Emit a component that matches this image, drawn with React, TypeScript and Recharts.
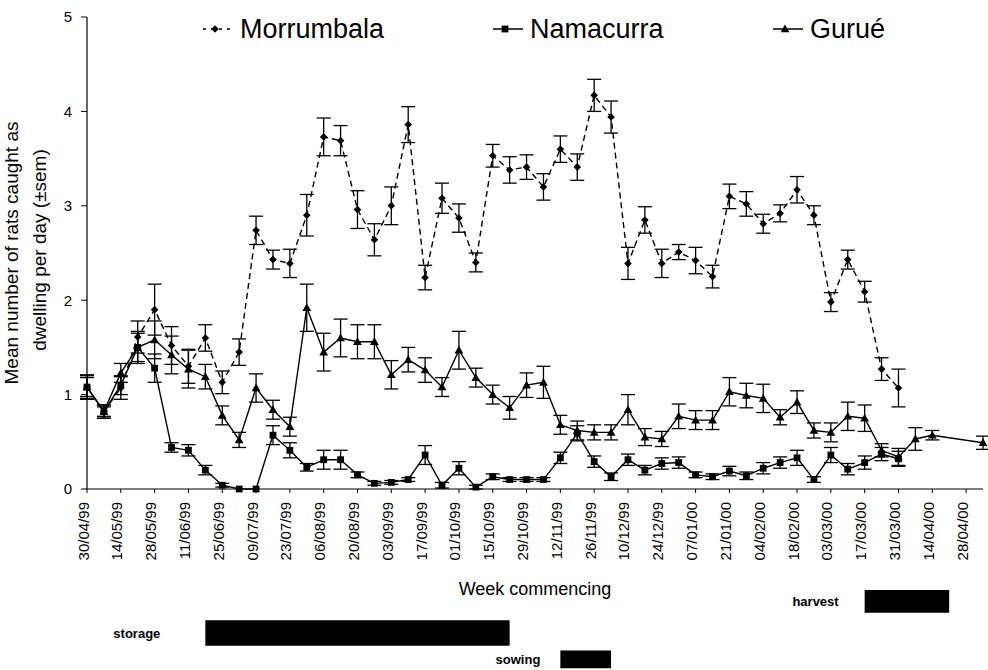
import React from 'react';
import { LineChart, Line, XAxis, YAxis, ErrorBar, Legend, ReferenceArea, Label } from 'recharts';

const FONT = '"Liberation Sans", Arial, Helvetica, sans-serif';

// week commencing, one entry per weekly trapping session
const WEEKS = [
  '30/04/99', '07/05/99', '14/05/99', '21/05/99', '28/05/99', '04/06/99', '11/06/99', '18/06/99',
  '25/06/99', '02/07/99', '09/07/99', '16/07/99', '23/07/99', '30/07/99', '06/08/99', '13/08/99',
  '20/08/99', '27/08/99', '03/09/99', '10/09/99', '17/09/99', '24/09/99', '01/10/99', '08/10/99',
  '15/10/99', '22/10/99', '29/10/99', '05/11/99', '12/11/99', '19/11/99', '26/11/99', '03/12/99',
  '10/12/99', '17/12/99', '24/12/99', '31/12/99', '07/01/00', '14/01/00', '21/01/00', '28/01/00',
  '04/02/00', '11/02/00', '18/02/00', '25/02/00', '03/03/00', '10/03/00', '17/03/00', '24/03/00',
  '31/03/00', '07/04/00', '14/04/00', '21/04/00', '28/04/00', '05/05/00',
];

const MORRUMBALA = [
  1.08, 0.82, 1.07, 1.61, 1.9, 1.52, 1.3, 1.6, 1.13, 1.45, 2.74, 2.43, 2.39, 2.9, 3.73, 3.69,
  2.96, 2.64, 3.0, 3.86, 2.24, 3.08, 2.87, 2.4, 3.53, 3.38, 3.41, 3.2, 3.6, 3.41, 4.17, 3.94,
  2.39, 2.85, 2.39, 2.51, 2.42, 2.25, 3.1, 3.02, 2.81, 2.92, 3.17, 2.9, 1.98, 2.43, 2.09, 1.27,
  1.07,
];
const MORRUMBALA_SEM = [
  0.13, 0.07, 0.12, 0.17, 0.27, 0.2, 0.18, 0.14, 0.12, 0.14, 0.15, 0.1, 0.15, 0.22, 0.2, 0.16,
  0.2, 0.17, 0.2, 0.19, 0.13, 0.16, 0.15, 0.1, 0.12, 0.14, 0.13, 0.14, 0.14, 0.14, 0.17, 0.17,
  0.17, 0.14, 0.15, 0.08, 0.14, 0.12, 0.13, 0.13, 0.1, 0.09, 0.14, 0.1, 0.1, 0.1, 0.11, 0.12,
  0.2,
];

const NAMACURRA = [
  1.08, 0.82, 1.1, 1.5, 1.28, 0.44, 0.41, 0.2, 0.04, 0.0, 0.0, 0.57, 0.41, 0.23, 0.31, 0.31,
  0.15, 0.06, 0.07, 0.1, 0.36, 0.04, 0.22, 0.02, 0.13, 0.1, 0.1, 0.1, 0.33, 0.59, 0.29, 0.13,
  0.31, 0.2, 0.27, 0.28, 0.15, 0.13, 0.19, 0.14, 0.22, 0.28, 0.33, 0.1, 0.36, 0.21, 0.28, 0.37,
  0.32,
];
const NAMACURRA_SEM = [
  0.1, 0.05, 0.1, 0.15, 0.15, 0.05, 0.06, 0.05, 0.02, 0.0, 0.0, 0.1, 0.08, 0.04, 0.1, 0.1,
  0.03, 0.02, 0.02, 0.02, 0.1, 0.03, 0.07, 0.02, 0.03, 0.02, 0.02, 0.02, 0.06, 0.08, 0.06, 0.04,
  0.06, 0.05, 0.06, 0.06, 0.03, 0.03, 0.05, 0.04, 0.06, 0.06, 0.08, 0.03, 0.08, 0.06, 0.07, 0.07,
  0.08,
];

const GURUE = [
  1.08, 0.82, 1.23, 1.5, 1.58, 1.42, 1.27, 1.19, 0.78, 0.52, 1.07, 0.84, 0.66, 1.92, 1.45, 1.6,
  1.56, 1.56, 1.21, 1.37, 1.26, 1.08, 1.47, 1.18, 1.0, 0.86, 1.1, 1.13, 0.68, 0.62, 0.6, 0.6,
  0.84, 0.55, 0.53, 0.77, 0.73, 0.73, 1.03, 0.99, 0.96, 0.76, 0.92, 0.62, 0.6, 0.77, 0.75, 0.41,
  0.34, 0.53, 0.57, null, null, 0.49,
];
const GURUE_SEM = [
  0.12, 0.07, 0.1, 0.17, 0.2, 0.2, 0.2, 0.13, 0.1, 0.08, 0.15, 0.1, 0.1, 0.25, 0.2, 0.2,
  0.18, 0.18, 0.15, 0.13, 0.13, 0.1, 0.2, 0.1, 0.1, 0.12, 0.13, 0.17, 0.1, 0.1, 0.08, 0.08,
  0.16, 0.09, 0.08, 0.13, 0.1, 0.1, 0.15, 0.13, 0.15, 0.08, 0.12, 0.08, 0.1, 0.15, 0.14, 0.07,
  0.09, 0.12, 0.05, null, null, 0.07,
];

const Y_TICKS = [0, 1, 2, 3, 4, 5];

// crop calendar bars drawn under the axis
const PERIOD_NAMES = ['storage', 'sowing', 'harvest'];
const PERIOD_START = ['18/06/99', '12/11/99', '17/03/00'];
const PERIOD_END = ['22/10/99', '03/12/99', '21/04/00'];

// layout for the bars (value units below zero) and label gaps
const PERIOD_BAND = [[-1.39, -1.66], [-1.71, -1.9], [-1.07, -1.31]];
const PERIOD_LABEL_GAP = [45, 20, 26];

const SERIES = [
  { key: 'morrumbala', name: 'Morrumbala', marker: 'diamond', dashed: true },
  { key: 'namacurra', name: 'Namacurra', marker: 'square', dashed: false },
  { key: 'gurue', name: 'Gurué', marker: 'triangle', dashed: false },
];

const data = WEEKS.map((week, i) => ({
  week,
  morrumbala: MORRUMBALA[i] ?? null,
  morrumbalaSem: MORRUMBALA_SEM[i] ?? null,
  namacurra: NAMACURRA[i] ?? null,
  namacurraSem: NAMACURRA_SEM[i] ?? null,
  gurue: GURUE[i] ?? null,
  gurueSem: GURUE_SEM[i] ?? null,
}));

const Marker = ({ type, cx, cy }: { type: string; cx: number; cy: number }) => {
  if (type === 'diamond') {
    const r = 3.8;
    return <polygon points={`${cx},${cy - r} ${cx + r},${cy} ${cx},${cy + r} ${cx - r},${cy}`} fill="#000" />;
  }
  if (type === 'square') {
    const r = 3.4;
    return <rect x={cx - r} y={cy - r} width={r * 2} height={r * 2} fill="#000" />;
  }
  const r = 4.4;
  return <polygon points={`${cx},${cy - r} ${cx + r},${cy + r * 0.75} ${cx - r},${cy + r * 0.75}`} fill="#000" />;
};

const makeDot = (type: string, key: string) => (props: any) => {
  const { cx, cy, index, payload } = props;
  if (cx == null || cy == null || payload == null || payload[key] == null) return <g key={`${key}-${index}`} />;
  return (
    <g key={`${key}-${index}`}>
      <Marker type={type} cx={cx} cy={cy} />
    </g>
  );
};

const WeekTick = ({ x, y, payload }: any) => (
  <text
    x={x}
    y={y}
    dy="0.1em"
    textAnchor="end"
    transform={`rotate(-90 ${x} ${y})`}
    fontSize={15}
    fontFamily={FONT}
    fill="#000"
  >
    {payload.value}
  </text>
);

const YTitle = ({ viewBox }: any) => {
  const cy = viewBox.y + viewBox.height / 2;
  const x1 = viewBox.x + 18;
  const x2 = viewBox.x + 46;
  return (
    <g fontFamily={FONT} fontSize={19} fill="#000">
      <text x={x1} y={cy} textAnchor="middle" transform={`rotate(-90 ${x1} ${cy})`}>
        Mean number of rats caught as
      </text>
      <text x={x2} y={cy - 3} textAnchor="middle" transform={`rotate(-90 ${x2} ${cy - 3})`}>
        dwelling per day (±sem)
      </text>
    </g>
  );
};

const LEGEND_LEFT = [200, 490, 770];

const renderLegend = () => (
  <div style={{ position: 'relative', width: 988, height: 40, fontFamily: FONT }}>
    {SERIES.map((s, i) => (
      <div
        key={s.key}
        style={{ position: 'absolute', left: LEGEND_LEFT[i], top: 0, height: 40, display: 'flex', alignItems: 'center' }}
      >
        <svg width={36} height={20}>
          <line x1={3} y1={10} x2={33} y2={10} stroke="#000" strokeWidth={1.5} strokeDasharray={s.dashed ? '3 5' : undefined} />
          <Marker type={s.marker} cx={15} cy={10} />
        </svg>
        <span style={{ fontSize: 27, marginLeft: 4, lineHeight: '40px', color: '#000' }}>{s.name}</span>
      </div>
    ))}
  </div>
);

export default function App() {
  return (
    <div style={{ position: 'absolute', left: 0, top: 0, width: 988, height: 670, background: '#fff' }}>
      <LineChart width={988} height={670} data={data} margin={{ top: 17, right: 5, bottom: 71, left: 0 }}>
        <XAxis
          dataKey="week"
          scale="point"
          interval={1}
          height={110}
          tick={<WeekTick />}
          tickSize={4}
          tickMargin={9}
          axisLine={{ stroke: '#000', strokeWidth: 1.2 }}
          tickLine={{ stroke: '#000' }}
          label={{ value: 'Week commencing', position: 'insideBottom', offset: 4, fontSize: 18, fill: '#000', fontFamily: FONT }}
        />
        <YAxis
          domain={[0, 5]}
          ticks={Y_TICKS}
          interval={0}
          width={87}
          tickSize={6}
          tickMargin={9}
          tick={{ fontSize: 15, fill: '#000', fontFamily: FONT }}
          axisLine={{ stroke: '#000', strokeWidth: 1.2 }}
          tickLine={{ stroke: '#000' }}
        >
          <Label content={<YTitle />} />
        </YAxis>
        <Legend layout="horizontal" verticalAlign="middle" align="center" wrapperStyle={{ left: 0, top: 9, width: 988 }} content={renderLegend} />
        {PERIOD_NAMES.map((name, i) => (
          <ReferenceArea
            key={name}
            x1={PERIOD_START[i]}
            x2={PERIOD_END[i]}
            y1={PERIOD_BAND[i][0]}
            y2={PERIOD_BAND[i][1]}
            ifOverflow="visible"
            fill="#000"
            fillOpacity={1}
            stroke="none"
            label={{ value: name, position: 'left', offset: PERIOD_LABEL_GAP[i], fontSize: 13, fontWeight: 'bold', fill: '#000', fontFamily: FONT }}
          />
        ))}
        <Line
          dataKey="namacurra"
          name="Namacurra"
          stroke="#000"
          strokeWidth={1.4}
          dot={makeDot('square', 'namacurra')}
          activeDot={false}
          isAnimationActive={false}
        >
          <ErrorBar dataKey="namacurraSem" width={7} stroke="#000" strokeWidth={1.3} direction="y" isAnimationActive={false} />
        </Line>
        <Line
          dataKey="gurue"
          name="Gurué"
          stroke="#000"
          strokeWidth={1.4}
          dot={makeDot('triangle', 'gurue')}
          activeDot={false}
          connectNulls
          isAnimationActive={false}
        >
          <ErrorBar dataKey="gurueSem" width={7} stroke="#000" strokeWidth={1.3} direction="y" isAnimationActive={false} />
        </Line>
        <Line
          dataKey="morrumbala"
          name="Morrumbala"
          stroke="#000"
          strokeWidth={1.4}
          strokeDasharray="6 4"
          dot={makeDot('diamond', 'morrumbala')}
          activeDot={false}
          isAnimationActive={false}
        >
          <ErrorBar dataKey="morrumbalaSem" width={7} stroke="#000" strokeWidth={1.3} direction="y" isAnimationActive={false} />
        </Line>
      </LineChart>
    </div>
  );
}
